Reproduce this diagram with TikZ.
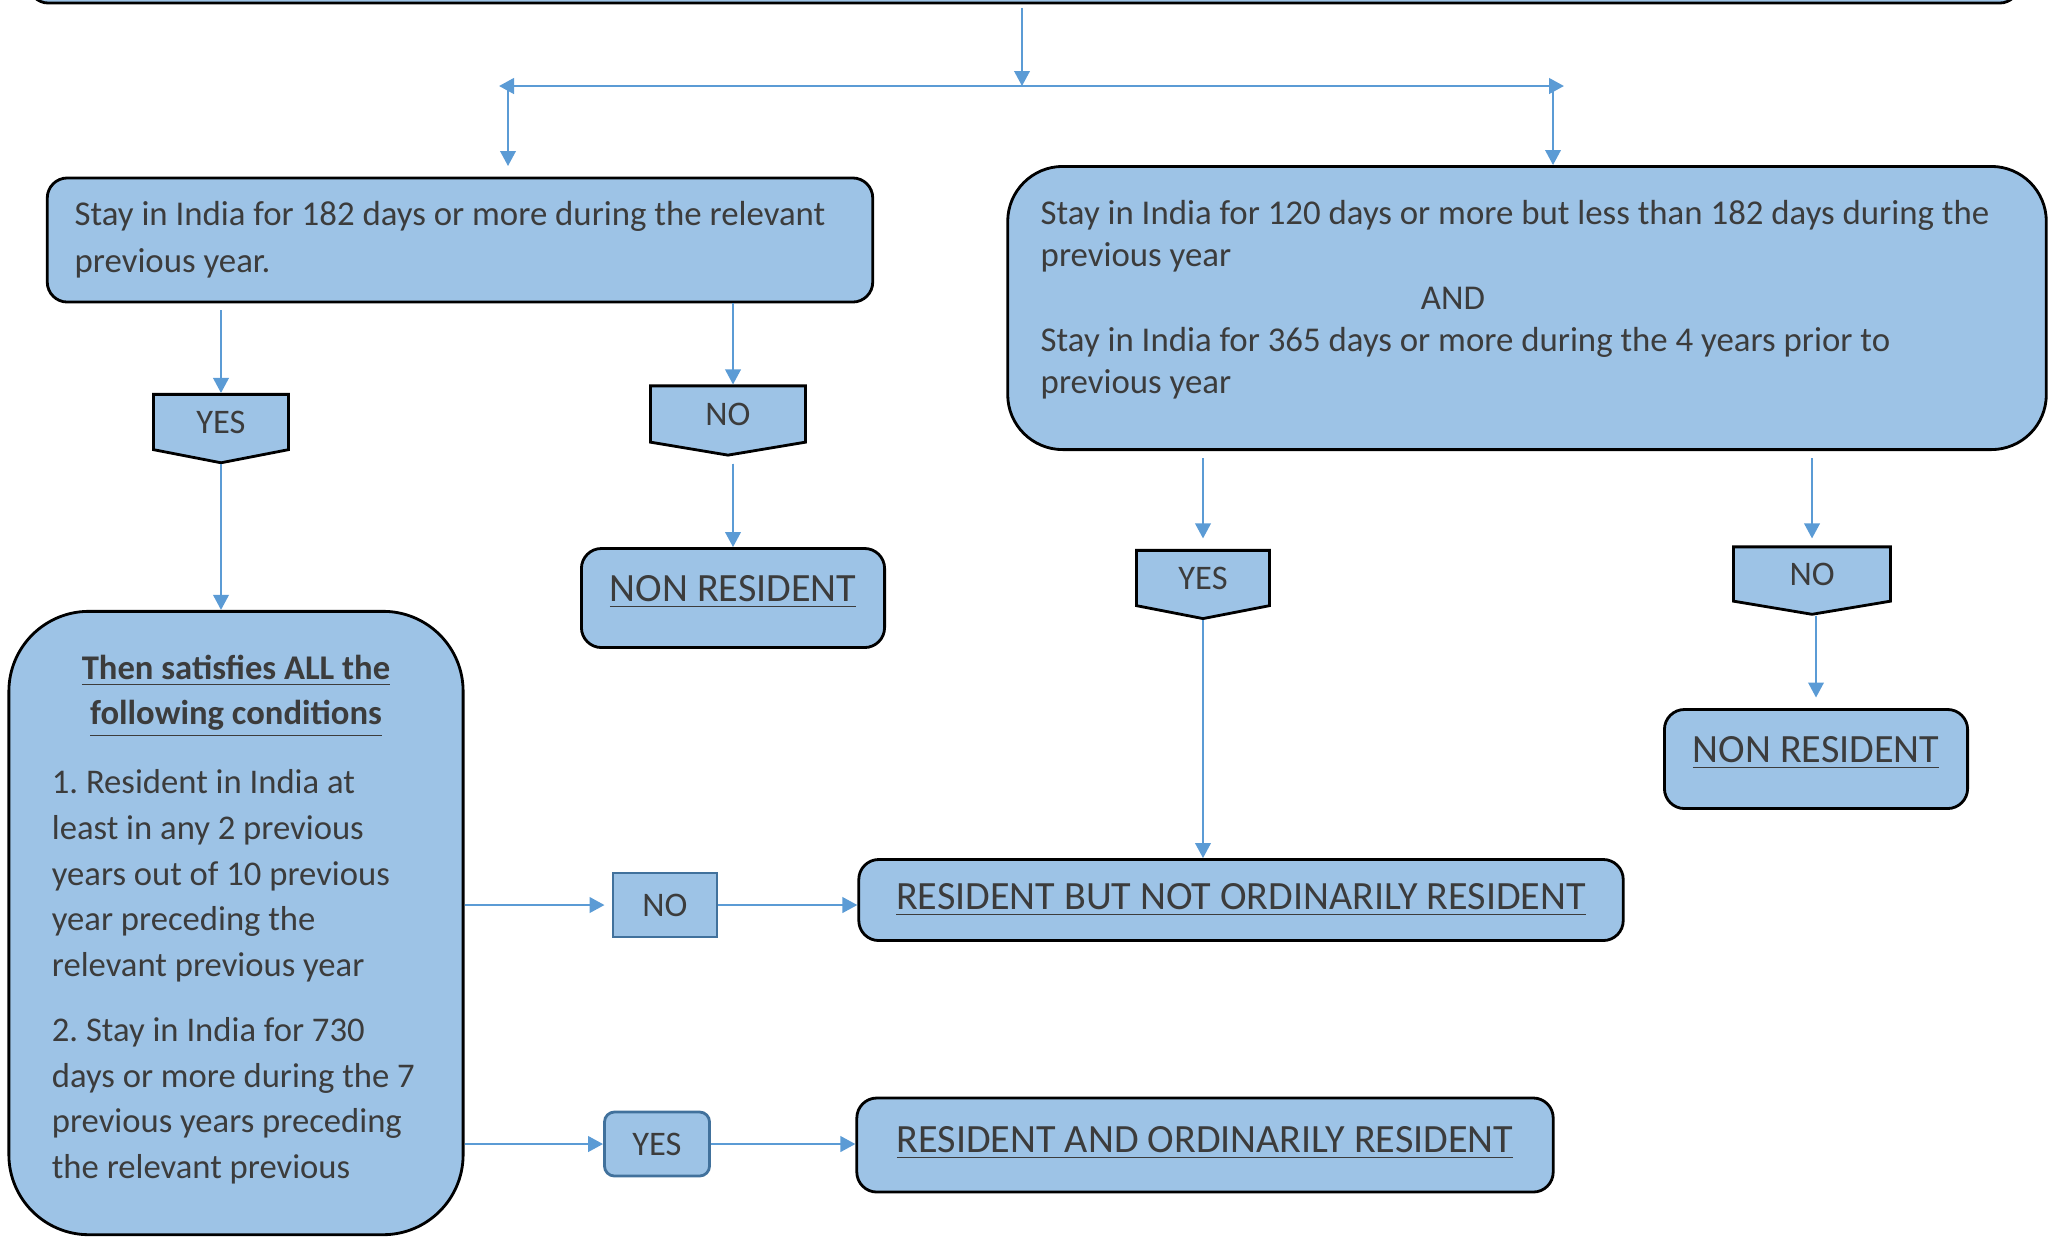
\documentclass[tikz,border=0pt]{standalone}
\usepackage{fontspec}
\setmainfont{Carlito}
\usepackage{tikz}
\usetikzlibrary{calc}
\usetikzlibrary{arrows.meta,shapes}
\definecolor{boxfill}{RGB}{157,195,230}
\definecolor{linkblue}{RGB}{91,155,213}
\definecolor{edgeblue}{RGB}{65,113,156}
\definecolor{txtgrey}{RGB}{60,60,60}
\newcommand{\NameNR}{\underline{NON RESIDENT}}
\newcommand{\NameYes}{YES}
\newcommand{\NameNo}{NO}
\newcommand{\SizeBody}{\fontsize{9.8}{13}\selectfont}
\newcommand{\SizeOut}{\fontsize{11.4}{14}\selectfont}
\frenchspacing

\begin{document}
\begin{tikzpicture}[x=0.01cm,y=-0.01cm,>={Triangle[length=0.15cm,width=0.155cm]},
  box/.style={draw=black, line width=0.8pt, fill=boxfill, rounded corners=0.2cm, text=txtgrey, font=\SizeBody, inner sep=0pt},
  outbox/.style={box, font=\SizeOut},
  flag/.style={signal, signal to=south, signal pointer angle=158, draw=black, line width=0.8pt, fill=boxfill, text=txtgrey, font=\SizeBody, inner sep=0pt},
  tag/.style={draw=edgeblue, line width=0.8pt, fill=boxfill, text=txtgrey, font=\SizeBody, minimum width=1.04cm, minimum height=0.64cm},
  link/.style={->, draw=linkblue, fill=linkblue, line width=0.6pt}]

  \useasboundingbox (0,0) rectangle (2049,1241);
  \clip (0,0) rectangle (2049,1241);

  % questions
  \node[box, minimum width=19.9cm, minimum height=1.2cm] (top) at (1024,-57) {};
  \node[box, minimum width=8.25cm, minimum height=1.24cm, align=left,
        font=\fontsize{9.9}{13.3}\selectfont] (stayA) at (460,240)
        {Stay in India for 182 days or more during the relevant\hspace*{0.2cm}\\previous year.};
  \node[box, rounded corners=0.55cm, minimum width=10.38cm, minimum height=2.83cm, align=left,
        font=\fontsize{9.9}{12}\selectfont] (stayB) at (1527,308)
        {Stay in India for 120 days or more but less than 182 days during the\hspace*{0.24cm}\\previous year\\\hspace*{3.8cm}AND\\Stay in India for 365 days or more during the 4 years prior to\\previous year\\[-0.2cm]\mbox{}};

  % yes / no flags
  \node[flag, minimum width=1.35cm, minimum height=0.6cm] (yesA) at (221,422) {\NameYes};
  \node[flag, minimum width=1.55cm, minimum height=0.6cm, signal pointer angle=161] (noA) at (728,414) {\NameNo};
  \node[flag, minimum width=1.33cm, minimum height=0.6cm] (yesB) at (1203,578) {\NameYes};
  \node[flag, minimum width=1.57cm, minimum height=0.58cm, signal pointer angle=161] (noB) at (1812,574) {\NameNo};

  \node[box, rounded corners=0.8cm, minimum width=4.54cm, minimum height=6.23cm, align=left,
        font=\fontsize{9.85}{13}\selectfont] (cond) at (236,923)
        {\makebox[3.68cm]{\underline{\textbf{Then satisfies ALL the}}}\\\makebox[3.68cm]{\underline{\textbf{following conditions}}}\\[0.23cm]1. Resident in India at\\least in any 2 previous\\years out of 10 previous\\year preceding the\\relevant previous year\\[0.19cm]2. Stay in India for 730\\days or more during the 7\\previous years preceding\\the relevant previous\\[-0.33cm]\mbox{}};

  % results
  \node[outbox, minimum width=3.03cm, minimum height=0.99cm, text depth=0.2cm] (nrA) at (733,598) {\NameNR};
  \node[outbox, minimum width=3.03cm, minimum height=0.99cm, text depth=0.2cm] (nrB) at (1816,759) {\NameNR};
  \node[outbox, minimum width=7.64cm, minimum height=0.81cm] (rnor) at (1241,900) {\underline{RESIDENT BUT NOT ORDINARILY RESIDENT}};
  \node[outbox, minimum width=6.96cm, minimum height=0.94cm, text depth=0.12cm] (ror) at (1205,1145) {\underline{RESIDENT AND ORDINARILY RESIDENT}};
  \node[tag] (noC) at (665,905) {\NameNo};
  \node[tag, rounded corners=0.1cm, minimum width=1.05cm] (yesC) at (657,1144) {\NameYes};

  \coordinate (hmid) at (1022,86);
  \coordinate (splitA) at (508,86);
  \coordinate (splitB) at (1553,86);

  \draw[link, shorten <=1pt] (top.south -| hmid) -- (hmid);
  \draw[link, <->, line width=0.8pt] ($(splitA)+(-9,0)$) -- ($(splitB)+(11,0)$);
  \draw[link, shorten >=3pt] (splitA) -- (stayA.north -| splitA);
  \draw[link] (splitB) -- (stayB.north -| splitB);
  \draw[link, shorten <=2pt] (stayA.south -| yesA) -- (yesA.north);
  \draw[link] (stayA.south -| nrA) -- (noA.north -| nrA);
  \draw[link, shorten <=2pt] (noA.south -| nrA) -- (nrA.north);
  \draw[link] (yesA.south) -- (cond.north -| yesA);
  \draw[link, shorten <=2pt, shorten >=3pt] (stayB.south -| yesB) -- (yesB.north);
  \draw[link, shorten <=2pt, shorten >=2pt] (stayB.south -| noB) -- (noB.north);
  \draw[link, shorten >=3pt] (noB.south -| nrB) -- (nrB.north);
  \draw[link] (yesB.south) -- (rnor.north -| yesB);
  \draw[link, line width=0.75pt, shorten >=2pt] (cond.east |- noC) -- (noC.west);
  \draw[link, line width=0.75pt] (noC.east) -- (rnor.west |- noC);
  \draw[link, line width=0.75pt] (cond.east |- yesC) -- (yesC.west);
  \draw[link, line width=0.75pt] (yesC.east) -- (ror.west |- yesC);
\end{tikzpicture}
\end{document}
